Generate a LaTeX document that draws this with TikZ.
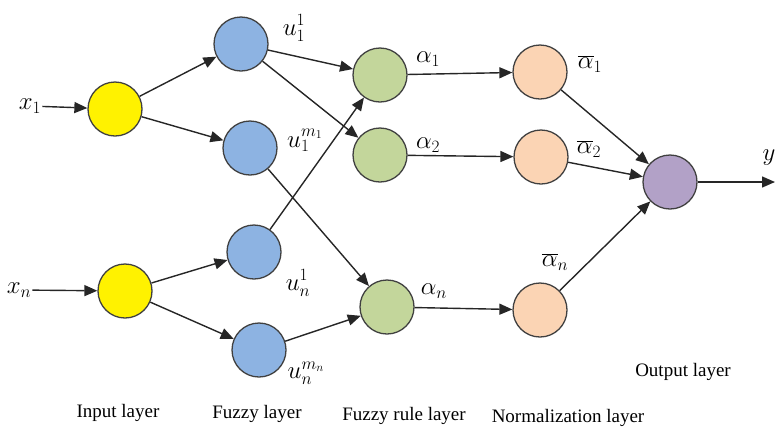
\documentclass[tikz,border=0pt]{standalone}
\usepackage{fontspec}
\setmainfont{Liberation Serif}
\usetikzlibrary{arrows.meta}
\definecolor{fuzblue}{RGB}{141,179,226}
\definecolor{rulegreen}{RGB}{195,214,155}
\definecolor{normorange}{RGB}{251,212,180}
\definecolor{outpurple}{RGB}{178,161,199}

\begin{document}
\begin{tikzpicture} [x=1pt, y=-1pt,
    neuron/.style={circle, draw=black!75, line width=1.3pt, minimum size=54pt, inner sep=0pt},
    inp/.style={neuron, fill=yellow},
    fuz/.style={neuron, fill=fuzblue},
    rul/.style={neuron, fill=rulegreen},
    nrm/.style={neuron, fill=normorange},
    outn/.style={neuron, fill=outpurple},
    lbl/.style={font=\fontsize{19}{22}\selectfont},
    mlbl/.style={font=\fontsize{25}{28}\selectfont, inner sep=1pt},
    edge/.style={->, line width=1.4pt, black!85},
    >={Triangle[length=13pt,width=11pt]}
    ]
    \useasboundingbox (0,0) rectangle (775,432);

    %Nodes
    \node[inp]   (in1)  at (115,109) {};
    \node[inp]   (inn)  at (125,291) {};
    \node[fuz]   (u11)  at (241,44)  {};
    \node[fuz]   (u1m)  at (250,148) {};
    \node[fuz]   (un1)  at (254,252) {};
    \node[fuz]   (unm)  at (259,350) {};
    \node[rul]   (r1)   at (380,75)  {};
    \node[rul]   (r2)   at (380,155) {};
    \node[rul]   (rn)   at (387,307) {};
    \node[nrm]   (n1)   at (540,72)  {};
    \node[nrm]   (n2)   at (541,157) {};
    \node[nrm]   (nn)   at (540,310) {};
    \node[outn]  (out)  at (670,182) {};
    \coordinate  (yend) at (775,182);

    %Labels
    \node[mlbl]  (x1)   at (30,106)  {$x_1$};
    \node[mlbl]  (xn)   at (19,290)  {$x_n$};
    \node[mlbl]  (lu11) at (294,28)  {$u_1^1$};
    \node[mlbl]  (lu1m) at (305,140) {$u_1^{m_1}$};
    \node[mlbl]  (lun1) at (298,283) {$u_n^1$};
    \node[mlbl]  (lunm) at (306,373) {$u_n^{m_n}$};
    \node[mlbl]  (la1)  at (428,59)  {$\alpha_1$};
    \node[mlbl]  (la2)  at (428,145) {$\alpha_2$};
    \node[mlbl]  (lan)  at (434,291) {$\alpha_n$};
    \node[mlbl]  (lb1)  at (590,64)  {$\overline{\alpha}_1$};
    \node[mlbl]  (lb2)  at (589,149) {$\overline{\alpha}_2$};
    \node[mlbl]  (lbn)  at (555,262) {$\overline{\alpha}_n$};
    \node[mlbl]  (ly)   at (769,158) {$y$};

    \node[lbl]   (linp) at (118,413) {Input layer};
    \node[lbl]   (lfuz) at (257,414) {Fuzzy layer};
    \node[lbl]   (lrul) at (404,416) {Fuzzy rule layer};
    \node[lbl]   (lnrm) at (568,418) {Normalization layer};
    \node[lbl]   (lout) at (683,372) {Output layer};

    %Lines
    \draw[edge] (x1) -- (in1);
    \draw[edge] (xn) -- (inn);
    \draw[edge] (in1) -- (u11);
    \draw[edge] (in1) -- (u1m);
    \draw[edge] (inn) -- (un1);
    \draw[edge] (inn) -- (unm);
    \draw[edge] (u11) -- (r1);
    \draw[edge] (u11) -- (r2);
    \draw[edge] (u1m) -- (rn);
    \draw[edge] (un1) -- (r1);
    \draw[edge] (unm) -- (rn);
    \draw[edge] (r1) -- (n1);
    \draw[edge] (r2) -- (n2);
    \draw[edge] (rn) -- (nn);
    \draw[edge] (n1) -- (out);
    \draw[edge] (n2) -- (out);
    \draw[edge] (nn) -- (out);
    \draw[edge] (out) -- (yend);
\end{tikzpicture}
\end{document}
